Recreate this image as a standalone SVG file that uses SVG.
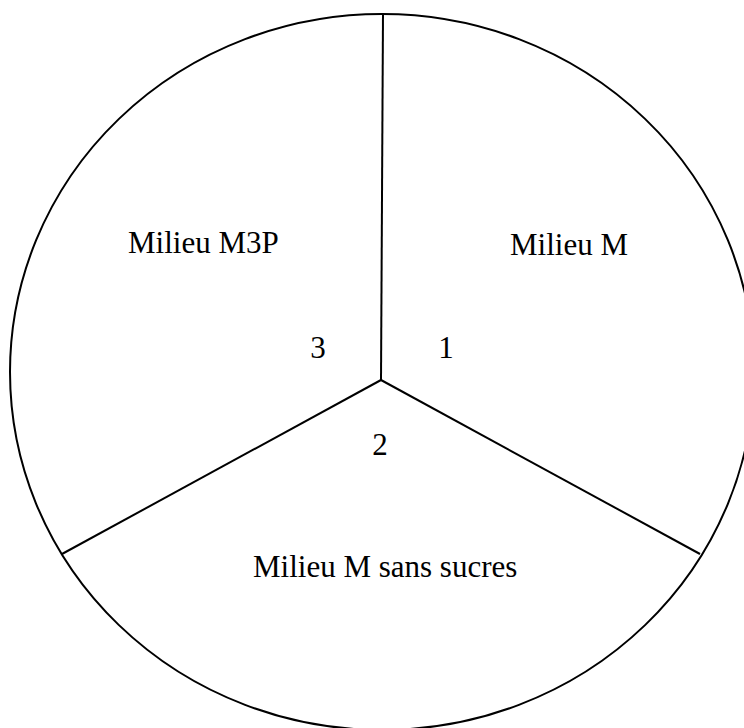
<svg xmlns="http://www.w3.org/2000/svg" width="744" height="728" viewBox="0 0 744 728">
<style>
.ln{fill:none;stroke:#000;stroke-width:2}
.t{font-family:"Liberation Serif","Times New Roman",serif;font-size:31px;fill:#000}
</style>
<rect width="744" height="728" fill="#fff"/>
<g id="circle"><ellipse class="ln" cx="382" cy="372" rx="372" ry="358"/></g>
<g id="connectors">
<line class="ln" x1="383" y1="13" x2="381" y2="380"/>
<line class="ln" x1="381" y1="380" x2="62" y2="554"/>
<line class="ln" x1="381" y1="380" x2="700" y2="554"/>
</g>
<g id="sector1"><text class="t" x="510" y="255">Milieu M</text><text class="t" x="446" y="358" text-anchor="middle">1</text></g>
<g id="sector2"><text class="t" x="253" y="577">Milieu M sans sucres</text><text class="t" x="380" y="455" text-anchor="middle">2</text></g>
<g id="sector3"><text class="t" x="128" y="253">Milieu M3P</text><text class="t" x="318" y="358" text-anchor="middle">3</text></g>
</svg>
